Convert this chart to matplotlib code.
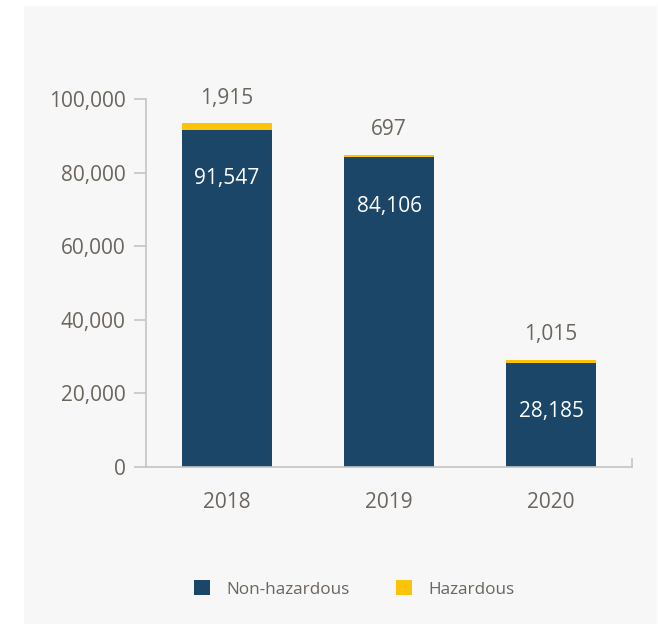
import matplotlib
matplotlib.use("Agg")
import matplotlib.pyplot as plt
from matplotlib.patches import Rectangle, Patch
from matplotlib.lines import Line2D

years = ["2018", "2019", "2020"]
non_hazardous = [91547, 84106, 28185]
hazardous = [1915, 697, 1015]
yticks = [0, 20000, 40000, 60000, 80000, 100000]

NAVY = "#1b4668"
YELLOW = "#fcc30b"
TXT = "#6b655e"
AXC = "#c4c4c4"

plt.rcParams['font.family'] = ['Open Sans', 'DejaVu Sans']

W, H = 658, 624
fig = plt.figure(figsize=(W / 100, H / 100), dpi=100)
fig.patch.set_facecolor("white")
fig.patches.append(Rectangle((24 / W, 0), (657 - 24) / W, (624 - 6) / H,
                             transform=fig.transFigure, facecolor="#f7f7f7",
                             edgecolor="none", zorder=-10))

ax = fig.add_axes([146 / W, (H - 467) / H, (632 - 146) / W, (467 - 99) / H])
ax.set_facecolor("none")

x = list(range(len(years)))
ax.bar(x, non_hazardous, width=0.55, color=NAVY, zorder=2)
ax.bar(x, hazardous, width=0.55, bottom=non_hazardous, color=YELLOW, zorder=2)

ax.set_xlim(-0.5, 2.5)
ax.set_ylim(0, 100000)

FS = 15
for i in x:
    top = non_hazardous[i] + hazardous[i]
    ax.annotate(f"{hazardous[i]:,}", (i, top), xytext=(0, 18), textcoords="offset points",
                ha="center", va="center", color=TXT, fontsize=FS)
    ax.annotate(f"{non_hazardous[i]:,}", (i, non_hazardous[i]), xytext=(0, -35),
                textcoords="offset points", ha="center", va="center",
                color="white", fontsize=FS)

for s in ["top", "right"]:
    ax.spines[s].set_visible(False)
for s in ["left", "bottom"]:
    ax.spines[s].set_color(AXC)
    ax.spines[s].set_linewidth(1.2)

ax.set_yticks(yticks)
ax.set_yticklabels([f"{v:,}" for v in yticks])
ax.tick_params(axis="y", length=8.5, width=1.2, color=AXC, labelcolor=TXT,
               labelsize=FS, pad=6)
ax.set_xticks(x)
ax.set_xticklabels(years)
ax.tick_params(axis="x", length=0, labelcolor=TXT, labelsize=FS, pad=18)

# small end cap on the right of the baseline
ax.add_line(Line2D([1, 1], [0, 8 / 368], transform=ax.transAxes, color=AXC,
                   linewidth=1.2, clip_on=False))

handles = [Patch(facecolor=NAVY, edgecolor="none", label="Non-hazardous"),
           Patch(facecolor=YELLOW, edgecolor="none", label="Hazardous")]
leg = fig.legend(handles=handles, loc="center", bbox_to_anchor=(354 / W, (H - 589) / H),
                 ncol=2, frameon=False, fontsize=12.3, handlelength=0.95,
                 handleheight=0.95, handletextpad=0.95, columnspacing=2.7)
for t in leg.get_texts():
    t.set_color(TXT)

fig.savefig("out.png", dpi=100)
